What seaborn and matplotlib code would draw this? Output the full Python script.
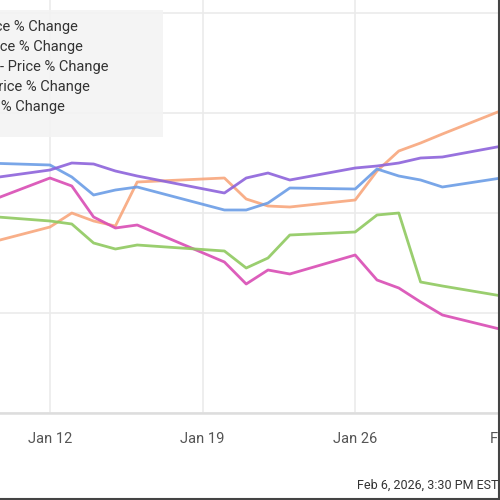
"""
Recreation of a cropped "% Change" line chart (five series, Jan 9 - Feb 2 2026).
"""

import pandas as pd
import seaborn as sns
import matplotlib.pyplot as plt
import matplotlib.dates as mdates
from matplotlib.patches import Rectangle

# Trading days shown (weekends and MLK day skipped)
dates = ["2026-01-09", "2026-01-12", "2026-01-13", "2026-01-14", "2026-01-15",
         "2026-01-16", "2026-01-20", "2026-01-21", "2026-01-22", "2026-01-23",
         "2026-01-26", "2026-01-27", "2026-01-28", "2026-01-29", "2026-01-30",
         "2026-02-02"]

# % change values
orange_vals = [-1.55, -0.7, 0.0, -0.4, -0.65, 1.55, 1.75, 0.7, 0.35, 0.3,
               0.65, 2.1, 3.1, 3.5, 3.95, 5.25]
blue_vals = [2.5, 2.4, 1.8, 0.9, 1.15, 1.3, 0.15, 0.15, 0.5, 1.25,
             1.2, 2.2, 1.85, 1.65, 1.3, 1.8]
purple_vals = [1.7, 2.15, 2.5, 2.45, 2.1, 1.85, 1.0, 1.75, 2.0, 1.65,
               2.25, 2.35, 2.5, 2.75, 2.8, 3.4]
pink_vals = [0.5, 1.75, 1.35, -0.2, -0.75, -0.6, -2.45, -3.55, -2.85, -3.05,
             -2.1, -3.35, -3.75, -4.45, -5.1, -5.9]
green_vals = [-0.15, -0.4, -0.55, -1.5, -1.8, -1.6, -1.9, -2.75, -2.25, -1.1,
              -0.95, -0.1, 0.0, -3.45, -3.65, -4.2]

series_names = ["Orange", "Blue", "Purple", "Pink", "Green"]
series_colors = ["#f8a67c", "#6b9de6", "#8d63db", "#d94cb4", "#8fc95f"]

# Legend text (the left part is cut off in the reference crop)
legend_labels = ["Price % Change", "Price % Change", "- Price % Change",
                 "Price % Change", "Price % Change"]
legend_ends = [78, 83, 108, 90, 65]  # right end of each label, px

timestamp = "Feb 6, 2026, 3:30 PM EST"

PLOT_STYLE = {
    "figure_size": (5, 5),
    "dpi": 100,
    "grid_color": "#ebebeb",
    "tick_color": "#555555",
    "font_size": 10.5,
}


def build_frame():
    values = [orange_vals, blue_vals, purple_vals, pink_vals, green_vals]
    frames = []
    for name, vals in zip(series_names, values):
        frames.append(pd.DataFrame({"date": pd.to_datetime(dates),
                                    "value": vals, "series": name}))
    return pd.concat(frames, ignore_index=True)


def main():
    sns.set_style("whitegrid", {"grid.color": PLOT_STYLE["grid_color"]})
    plt.rcParams["font.family"] = ["Roboto", "DejaVu Sans"]

    fig = plt.figure(figsize=PLOT_STYLE["figure_size"], dpi=PLOT_STYLE["dpi"])
    # the plot area runs past the right edge of the crop (to 520 px)
    ax = fig.add_axes([0.0, 87 / 500, 520 / 500, 413 / 500])

    df = build_frame()
    sns.lineplot(data=df, x="date", y="value", hue="series",
                 palette=dict(zip(series_names, series_colors)),
                 linewidth=2.0, alpha=0.9, ax=ax, legend=False)

    jan12 = pd.Timestamp("2026-01-12")
    ax.set_xlim(jan12 - pd.Timedelta(days=50 / 21.8),
                jan12 + pd.Timedelta(days=470 / 21.8))
    ax.set_ylim(-10, 10.65)
    ax.set_yticks([-10, -5, 0, 5, 10])
    ax.tick_params(axis="y", labelleft=False, length=0)

    ax.xaxis.set_major_locator(mdates.WeekdayLocator(byweekday=mdates.MO))
    ax.xaxis.set_major_formatter(mdates.DateFormatter("%b %-d"))
    ax.tick_params(axis="x", length=0, pad=14,
                   labelsize=PLOT_STYLE["font_size"],
                   labelcolor=PLOT_STYLE["tick_color"])
    ax.grid(True, color=PLOT_STYLE["grid_color"], linewidth=1.2)
    ax.set_xlabel("")
    ax.set_ylabel("")
    for side in ["top", "left", "right"]:
        ax.spines[side].set_visible(False)
    ax.spines["bottom"].set_color("#dddddd")
    ax.spines["bottom"].set_linewidth(1.8)

    # legend box, cut off at the left edge
    fig.patches.append(Rectangle((-0.05, 1 - 137 / 500), 0.05 + 163 / 500,
                                 127 / 500, transform=fig.transFigure,
                                 facecolor="#f3f3f3", alpha=0.85,
                                 edgecolor="none", zorder=5))
    for i, (label, end) in enumerate(zip(legend_labels, legend_ends)):
        fig.text(end / 500, 1 - (27 + 20 * i) / 500, label, ha="right",
                 va="center", fontsize=PLOT_STYLE["font_size"],
                 color="#333333", zorder=6)

    fig.text(357 / 500, 1 - 485 / 500, timestamp, ha="left", va="center",
             fontsize=9, color="#333333")

    # dark frame on the right and bottom edges of the crop
    fig.add_artist(plt.Line2D([0.997, 0.997], [0, 1], color="#444444",
                              linewidth=1.5, transform=fig.transFigure))
    fig.add_artist(plt.Line2D([0, 1], [0.003, 0.003], color="#444444",
                              linewidth=1.5, transform=fig.transFigure))

    fig.savefig("out.png", dpi=PLOT_STYLE["dpi"])


if __name__ == "__main__":
    main()
